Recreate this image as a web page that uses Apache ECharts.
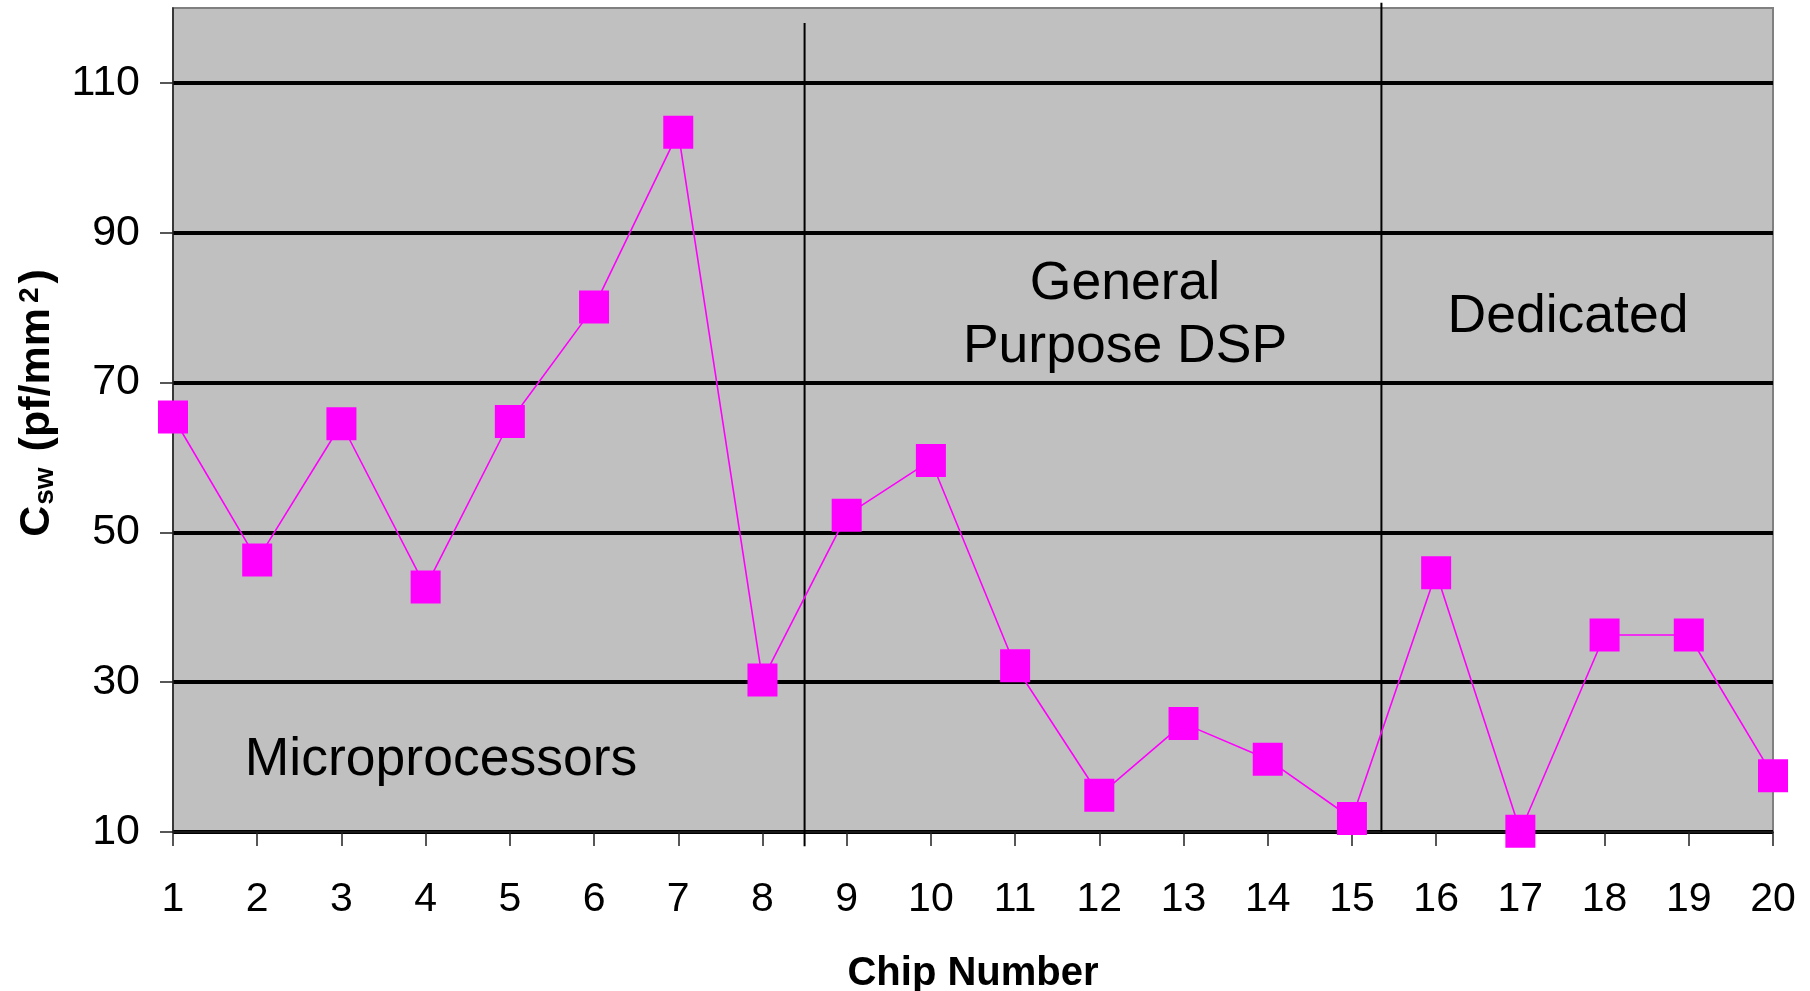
<!DOCTYPE html>
<html>
<head>
<meta charset="utf-8">
<script src="https://cdn.jsdelivr.net/npm/echarts@6/dist/echarts.min.js"></script>
<style>
html,body{margin:0;padding:0;background:#fff;}
#c{width:1810px;height:991px;}
</style>
</head>
<body>
<div id="c"></div>
<script>
// ---- data ----
var chips = [1,2,3,4,5,6,7,8,9,10,11,12,13,14,15,16,17,18,19,20];
var csw = [65.4, 46.3, 64.5, 42.7, 64.8, 80.1, 103.4, 30.3, 52.3, 59.6, 32.2, 14.9, 24.5, 19.7, 11.8, 44.6, 10.1, 36.3, 36.3, 17.5];
var yTicks = [10, 30, 50, 70, 90, 110];
var groupBoundaries = [8.5, 15.35];   // chip-number positions of the vertical group dividers
var groupLabels = ['Microprocessors', 'General\nPurpose DSP', 'Dedicated'];

var FONT = '"Liberation Sans", Arial, sans-serif';
var chart = echarts.init(document.getElementById('c'), null, {renderer: 'canvas'});

var points = chips.map(function (c, i) { return [c, csw[i]]; });

var option = {
  animation: false,
  backgroundColor: '#ffffff',
  grid: {
    left: 173, right: 37, top: 8, bottom: 159,
    containLabel: false, outerBoundsMode: 'none',
    show: true, backgroundColor: '#C0C0C0', borderColor: '#808080', borderWidth: 2
  },
  xAxis: {
    type: 'value', min: 1, max: 20, interval: 1,
    name: 'Chip Number', nameLocation: 'middle', nameGap: 122,
    nameTextStyle: {fontFamily: FONT, fontWeight: 'bold', fontSize: 40, color: '#000'},
    axisLine: {show: true, onZero: false, lineStyle: {color: '#202020', width: 1.5}},
    axisTick: {show: true, length: 14, lineStyle: {color: '#202020', width: 1.5}},
    axisLabel: {fontFamily: FONT, fontSize: 41, color: '#000', margin: 47},
    splitLine: {show: false}
  },
  yAxis: {
    type: 'value', min: 10, max: 120,
    name: '{b|C}{sub|sw}{b| (pf/mm}{sup|2}{b|)}',
    nameLocation: 'middle', nameRotate: 90, nameGap: 114,
    nameTextStyle: {
      padding: [0, 0, 0, 34],
      rich: {
        b: {fontFamily: FONT, fontWeight: 'bold', fontSize: 43, color: '#000'},
        sub: {fontFamily: FONT, fontWeight: 'bold', fontSize: 28, color: '#000', verticalAlign: 'bottom', lineHeight: 36, padding: [0, 4, 0, 1]},
        sup: {fontFamily: FONT, fontWeight: 'bold', fontSize: 28, color: '#000', verticalAlign: 'top', lineHeight: 36, padding: [0, 4, 0, 5]}
      }
    },
    axisLine: {show: true, lineStyle: {color: '#202020', width: 1.5}},
    axisTick: {show: true, length: 13, customValues: yTicks, lineStyle: {color: '#202020', width: 1.5}},
    axisLabel: {fontFamily: FONT, fontSize: 43, color: '#000', margin: 33, customValues: yTicks},
    splitLine: {show: true, lineStyle: {color: '#000', width: 4}}
  },
  graphic: [
    {type: 'text', x: 441, y: 760, z: 50, style: {text: groupLabels[0], font: '53.5px ' + FONT, fill: '#000', align: 'center', verticalAlign: 'middle'}},
    {type: 'text', x: 1125, y: 316, z: 50, style: {text: groupLabels[1], font: '53.5px ' + FONT, fill: '#000', align: 'center', verticalAlign: 'middle', lineHeight: 63}},
    {type: 'text', x: 1568, y: 317, z: 50, style: {text: groupLabels[2], font: '53.5px ' + FONT, fill: '#000', align: 'center', verticalAlign: 'middle'}}
  ],
  series: [
    {
      type: 'line', data: [[groupBoundaries[0], 118], [groupBoundaries[0], 8.1]],
      clip: false, symbol: 'none', silent: true, z: 3,
      lineStyle: {color: '#000', width: 2}
    },
    {
      type: 'line', data: [[groupBoundaries[1], 120.7], [groupBoundaries[1], 10]],
      clip: false, symbol: 'none', silent: true, z: 3,
      lineStyle: {color: '#000', width: 2}
    },
    {
      type: 'line', data: points, z: 5,
      symbol: 'rect', symbolSize: [30, 33],
      itemStyle: {color: '#FF00FF'},
      lineStyle: {color: '#FF00FF', width: 1.6}
    }
  ]
};
chart.setOption(option);
</script>
</body>
</html>
